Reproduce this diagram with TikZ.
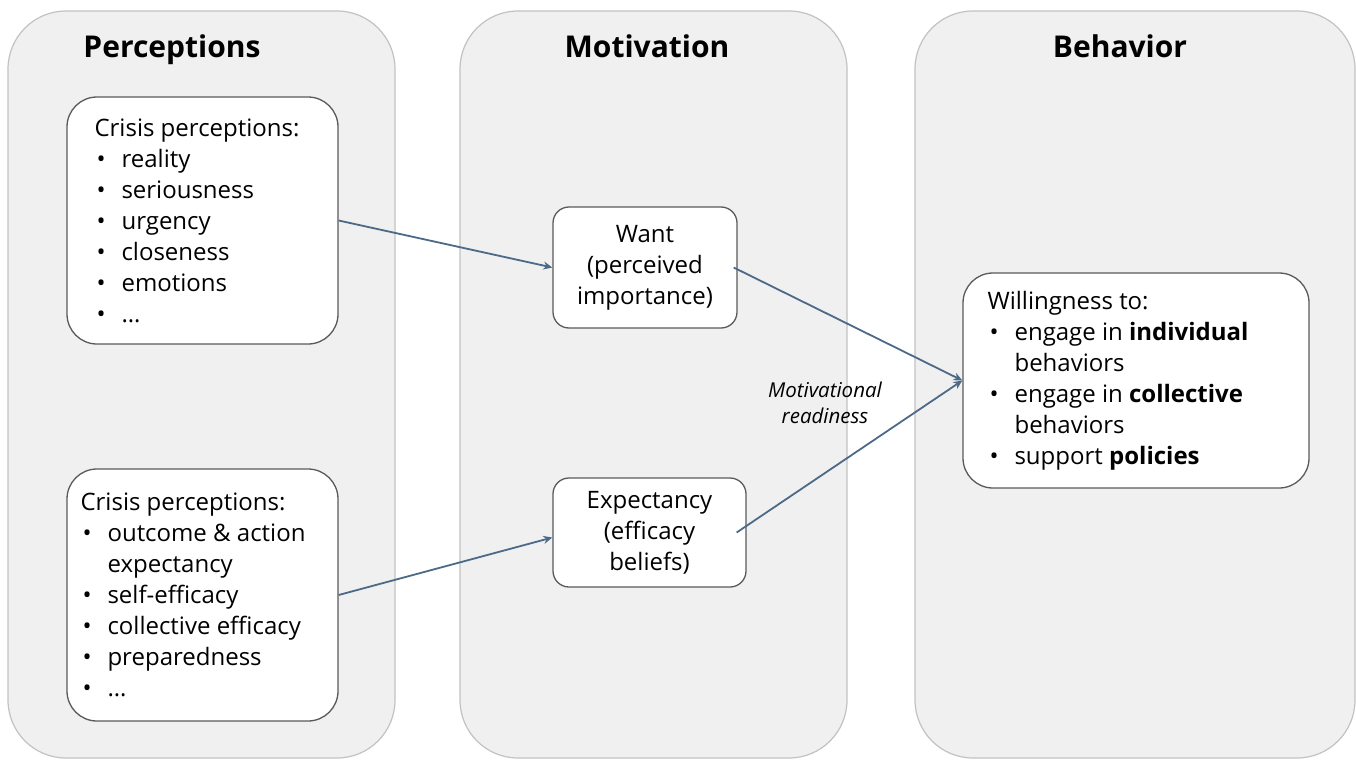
\documentclass[tikz,border=0pt]{standalone}
\usepackage{fontspec}
\setmainfont{Open Sans}
\usetikzlibrary{arrows.meta}
\definecolor{panelfill}{HTML}{F0F0F0}
\definecolor{panelline}{HTML}{C2C2C2}
\definecolor{boxline}{HTML}{5A5A5A}
\definecolor{arrowcol}{HTML}{4C6A88}
\newcommand{\bitem}[1]{\makebox[27pt][l]{\hspace{2pt}\textbullet}#1}
\newcommand{\citem}[1]{\hspace{27pt}#1}
\tikzset{
  panel/.style={draw=panelline, fill=panelfill, line width=1.2pt, rounded corners=58pt, minimum height=747pt, inner sep=0pt},
  ptitle/.style={anchor=base, font=\fontsize{30}{36}\selectfont\bfseries},
  box/.style={draw=boxline, fill=white, line width=1.3pt, inner sep=0pt},
  btext/.style={anchor=west, align=left, inner sep=0pt, font=\fontsize{24}{31}\selectfont},
  ctext/.style={align=center, inner sep=0pt, font=\fontsize{24}{31}\selectfont},
  link/.style={draw=arrowcol, line width=1.8pt, -{Stealth[length=9pt,width=8pt]}},
}
\begin{document}
\begin{tikzpicture}[x=1pt,y=-1pt]
\useasboundingbox (0,0) rectangle (1356,760);
% panels
\node[panel, minimum width=387pt] (p1) at (201.5,384.5) {};
\node[panel, minimum width=387pt] (p2) at (653.5,384.5) {};
\node[panel, minimum width=440pt] (p3) at (1135,384.5) {};
\node[ptitle] (t1) at (172,57) {Perceptions};
\node[ptitle] (t2) at (647,57) {Motivation};
\node[ptitle] (t3) at (1120,57) {Behavior};
% perception boxes
\node[box, rounded corners=30pt, minimum width=271pt, minimum height=247pt] (c1) at (202.5,220.5) {};
\node[btext] (c1t) at ([xshift=28pt]c1.west) {Crisis perceptions:\\ \bitem{reality}\\ \bitem{seriousness}\\ \bitem{urgency}\\ \bitem{closeness}\\ \bitem{emotions}\\ \bitem{\dots}};
\node[box, rounded corners=30pt, minimum width=271pt, minimum height=252pt] (c2) at (202.5,595) {};
\node[btext] (c2t) at ([xshift=14pt]c2.west) {Crisis perceptions:\\ \bitem{outcome \& action}\\ \citem{expectancy}\\ \bitem{self-efficacy}\\ \bitem{collective efficacy}\\ \bitem{preparedness}\\ \bitem{\dots}};
% motivation boxes
\node[box, rounded corners=16pt, minimum width=184pt, minimum height=121pt] (want) at (645,267.5) {};
\node[ctext] (wantt) at (want.center) {Want\\(perceived\\importance)};
\node[box, rounded corners=16pt, minimum width=193pt, minimum height=109pt] (exp) at (649.5,532.5) {};
\node[ctext] (expt) at (exp.center) {Expectancy\\(efficacy\\beliefs)};
% behavior box
\node[box, rounded corners=30pt, minimum width=346pt, minimum height=215pt] (will) at (1136,380.5) {};
\node[btext] (willt) at ([xshift=25pt]will.west) {Willingness to:\\ \bitem{engage in \textbf{individual}}\\ \citem{behaviors}\\ \bitem{engage in \textbf{collective}}\\ \citem{behaviors}\\ \bitem{support \textbf{policies}}};
% label
\node[align=center, inner sep=0pt, font=\fontsize{20.5}{26}\selectfont\itshape] (mr) at (825,403) {Motivational\\readiness};
% connectors
\draw[link] (c1.east) -- (want.west);
\draw[link] (c2.east) -- ([yshift=-5pt]exp.west);
\draw[link] ([xshift=-4pt]want.east) -- (will.west);
\draw[link] ([xshift=-10pt]exp.east) -- (will.west);
\end{tikzpicture}
\end{document}
